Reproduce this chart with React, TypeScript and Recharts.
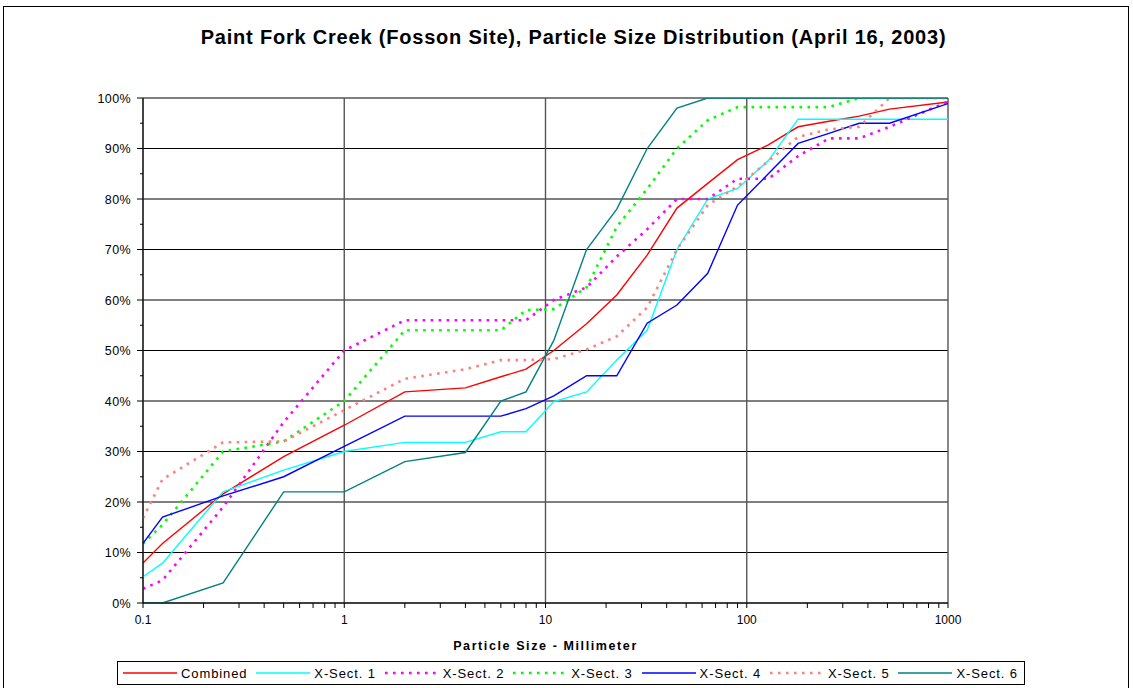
import React from 'react';
import { LineChart, Line, XAxis, YAxis, CartesianGrid } from 'recharts';

// Particle sizes (mm) at which the cumulative curves are read
const sizes = [0.1, 0.125, 0.25, 0.5, 1, 2, 4, 6, 8, 11, 16, 22.6, 32, 45, 64, 90, 128, 180, 256, 362, 512, 1000];

// Cumulative percent finer
const combined = [7.9, 11.8, 21.6, 29, 35.2, 41.8, 42.6, 44.8, 46.3, 50, 55.3, 61, 68.9, 78.2, 83.1, 87.8, 90.7, 94.3, 95.4, 96.4, 97.8, 99.2];
const xSect1 = [5.2, 7.9, 22, 26.3, 30, 31.8, 31.8, 33.9, 33.9, 39.9, 41.8, 48.1, 54, 70, 80, 82.1, 87.6, 95.8, 95.8, 95.8, 95.8, 95.8];
const xSect2 = [2.8, 4.5, 19, 35.8, 50, 56, 56, 56, 56, 60, 62.5, 68.6, 74, 80, 80, 84, 84, 88.5, 92, 92, 94.3, 99.3];
const xSect3 = [11.7, 15.5, 30, 32, 40, 54, 54, 54, 58, 58.2, 62.5, 74.5, 82, 90, 95.6, 98.2, 98.2, 98.2, 98.2, 100, 100, 100];
const xSect4 = [11.8, 17, 21.2, 25, 31, 37, 37, 37, 38.5, 41, 45, 45, 55.4, 59, 65.3, 78.8, 85, 91, 93, 95, 95, 98.9];
const xSect5 = [16.8, 24.5, 31.8, 32, 38.2, 44.4, 46.3, 48.1, 48.1, 48.3, 50.2, 52.8, 58.5, 70, 78.8, 82.5, 87.5, 92.3, 93.8, 94.3, 100, 100];
const xSect6 = [0, 0, 4, 22, 22, 28, 29.8, 40, 41.8, 52, 70, 78, 90, 98, 100, 100, 100, 100, 100, 100, 100, 100];

const seriesNames = ['Combined', 'X-Sect. 1', 'X-Sect. 2', 'X-Sect. 3', 'X-Sect. 4', 'X-Sect. 5', 'X-Sect. 6'];
const seriesValues = [combined, xSect1, xSect2, xSect3, xSect4, xSect5, xSect6];

const xMajorTicks = [0.1, 1, 10, 100, 1000];
const xMinorTicks = [0.2, 0.3, 0.4, 0.5, 0.6, 0.7, 0.8, 0.9, 2, 3, 4, 5, 6, 7, 8, 9, 20, 30, 40, 50, 60, 70, 80, 90, 200, 300, 400, 500, 600, 700, 800, 900];
const yMajorTicks = [0, 10, 20, 30, 40, 50, 60, 70, 80, 90, 100];
const yMinorTicks = [5, 15, 25, 35, 45, 55, 65, 75, 85, 95];

const styles = [
  { color: '#FF0000', width: 1.4, dash: undefined as string | undefined },
  { color: '#00FFFF', width: 1.4, dash: undefined },
  { color: '#FF00FF', width: 2.6, dash: '2.6 5.4' },
  { color: '#00FF00', width: 2.6, dash: '2.6 5.4' },
  { color: '#0000FF', width: 1.4, dash: undefined },
  { color: '#FF8080', width: 2.6, dash: '2.6 5.4' },
  { color: '#008080', width: 1.4, dash: undefined },
];

const FONT = '"Liberation Sans", Arial, sans-serif';

const XTick = (props: any) => {
  const { x, y, payload } = props;
  const v = payload.value;
  const major = xMajorTicks.includes(v);
  return (
    <g>
      <line x1={x} x2={x} y1={y} y2={y + 5} stroke="#000" strokeWidth={1} />
      {major && (
        <text x={x} y={y + 21} textAnchor="middle" fontSize={12} fontFamily={FONT} fill="#000">
          {String(v)}
        </text>
      )}
    </g>
  );
};

const YTick = (props: any) => {
  const { x, y, payload } = props;
  const v = payload.value;
  const major = yMajorTicks.includes(v);
  return (
    <g>
      <line x1={x - (major ? 6 : 3)} x2={x} y1={y} y2={y} stroke="#000" strokeWidth={1} />
      {major && (
        <text x={x - 12} y={y + 4.5} textAnchor="end" fontSize={12.5} fontFamily={FONT} fill="#000" letterSpacing={0.4}>
          {`${v}%`}
        </text>
      )}
    </g>
  );
};

export default function App() {
  const series = seriesNames.map((name, i) => ({
    name,
    ...styles[i],
    data: sizes.map((s, j) => ({ size: s, v: seriesValues[i][j] })),
  }));

  return (
    <div style={{ position: 'absolute', left: 0, top: 0, width: 1133, height: 688, background: '#fff', overflow: 'hidden', fontFamily: FONT }}>
      <div style={{ position: 'absolute', left: 3, top: 6, width: 1126, height: 700, border: '1px solid #000', boxSizing: 'border-box' }} />
      <div style={{ position: 'absolute', left: 0, top: 26, width: 1147, textAlign: 'center', fontWeight: 'bold', fontSize: 20, letterSpacing: 0.8, color: '#000' }}>
        Paint Fork Creek (Fosson Site), Particle Size Distribution (April 16, 2003)
      </div>
      <div style={{ position: 'absolute', left: 0, top: 0 }}>
        <LineChart width={1133} height={688} margin={{ top: 98, right: 185, bottom: 55, left: 0 }}>
          <CartesianGrid horizontal={true} vertical={false} horizontalValues={yMajorTicks} stroke="#000" strokeWidth={1} />
          <CartesianGrid horizontal={false} vertical={true} verticalValues={xMajorTicks} stroke="#555" strokeWidth={1.4} />
          <XAxis
            dataKey="size"
            type="number"
            scale="log"
            domain={[0.1, 1000]}
            allowDataOverflow
            ticks={[...xMajorTicks, ...xMinorTicks]}
            interval={0}
            height={30}
            tickSize={0}
            tickMargin={0}
            tickLine={false}
            tick={<XTick />}
            axisLine={{ stroke: '#000', strokeWidth: 1 }}
          />
          <YAxis
            type="number"
            domain={[0, 100]}
            allowDataOverflow
            ticks={[...yMajorTicks, ...yMinorTicks]}
            interval={0}
            width={143}
            tickSize={0}
            tickMargin={0}
            tickLine={false}
            tick={<YTick />}
            axisLine={{ stroke: '#000', strokeWidth: 1 }}
          />
          {series.map((s) => (
            <Line
              key={s.name}
              data={s.data}
              dataKey="v"
              name={s.name}
              type="linear"
              stroke={s.color}
              strokeWidth={s.width}
              strokeDasharray={s.dash}
              dot={false}
              activeDot={false}
              isAnimationActive={false}
            />
          ))}
        </LineChart>
      </div>
      <div style={{ position: 'absolute', left: 0, top: 639, width: 1091, textAlign: 'center', fontWeight: 'bold', fontSize: 12.5, letterSpacing: 1.6, color: '#000' }}>
        Particle Size - Millimeter
      </div>
      <div
        style={{
          position: 'absolute', left: 117, top: 661, width: 908, height: 24, border: '1px solid #000', boxSizing: 'border-box',
          display: 'flex', alignItems: 'center', justifyContent: 'space-between', padding: '0 6px 0 5px', fontSize: 13, letterSpacing: 0.9, color: '#000',
        }}
      >
        {series.map((s) => (
          <div key={s.name} style={{ display: 'flex', alignItems: 'center' }}>
            <svg width={54} height={8}>
              <line x1={0} x2={54} y1={4} y2={4} stroke={s.color} strokeWidth={s.dash ? 2.6 : 1.4} strokeDasharray={s.dash} />
            </svg>
            <span style={{ marginLeft: 4 }}>{s.name}</span>
          </div>
        ))}
      </div>
    </div>
  );
}
